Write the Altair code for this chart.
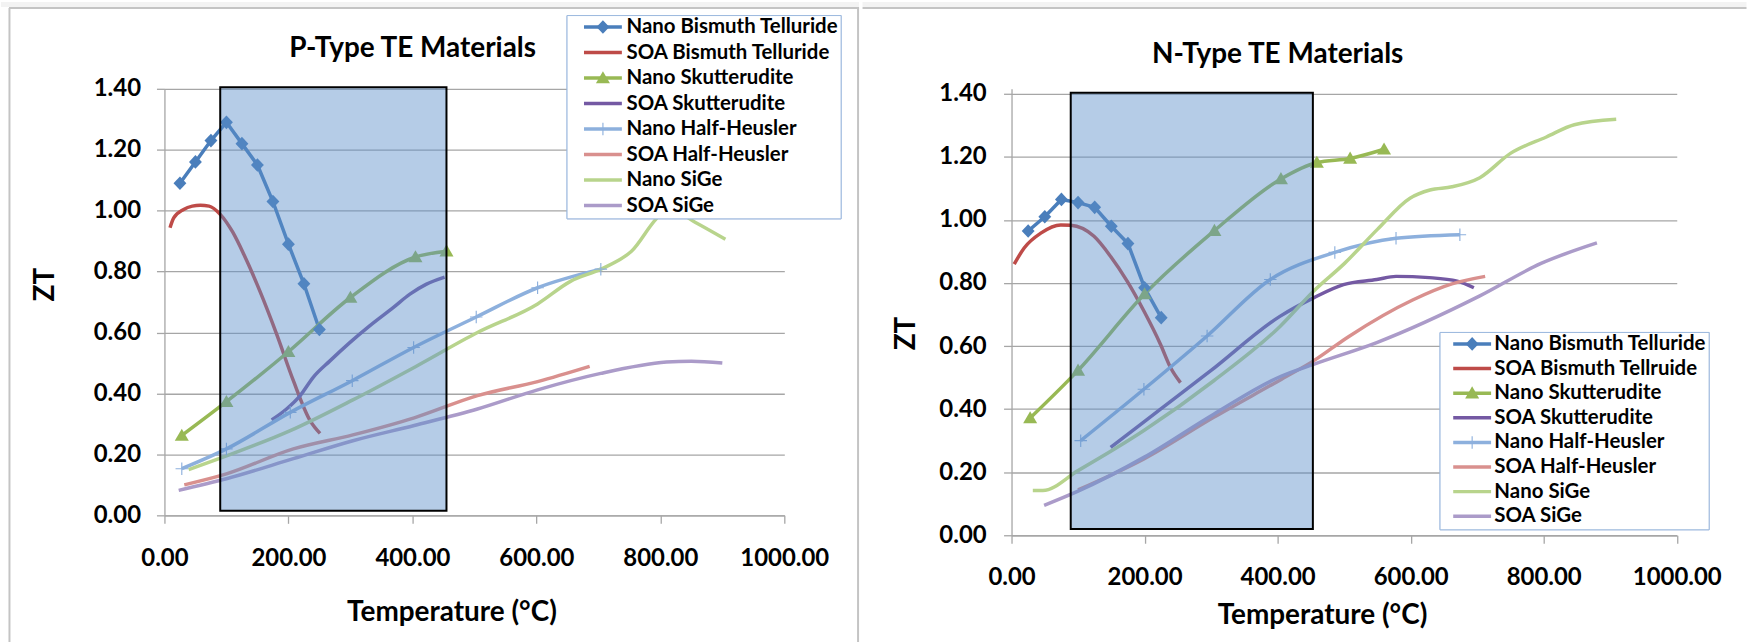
import altair as alt
import pandas as pd

FONT = "Lato"

# ---------------- series names ----------------
SERIES_P = ["Nano Bismuth Telluride", "SOA Bismuth Telluride", "Nano Skutterudite",
            "SOA Skutterudite", "Nano Half-Heusler", "SOA Half-Heusler", "Nano SiGe", "SOA SiGe"]
SERIES_N = ["Nano Bismuth Telluride", "SOA Bismuth Tellruide", "Nano Skutterudite",
            "SOA Skutterudite", "Nano Half-Heusler", "SOA Half-Heusler", "Nano SiGe", "SOA SiGe"]
COLORS = ["#4A7EBB", "#BE4B48", "#98B954", "#7459A3", "#8DB0DD", "#D9908E", "#B8D48C", "#AB9BC9"]
# marker outlines in the unit box of a symbol whose full width is the legend line length
DIAMOND = "M-0.34,0L0,-0.36L0.34,0L0,0.36Z"
TRIANGLE = "M0,-0.36L0.37,0.28L-0.37,0.28Z"
PLUS = "M-0.03,-0.33H0.03V-0.03H0.33V0.03H0.03V0.33H-0.03V0.03H-0.33V-0.03H-0.03Z"
NOMARK = "M0,0"
MARKER_SHAPES = [DIAMOND, NOMARK, TRIANGLE, NOMARK, PLUS, NOMARK, NOMARK, NOMARK]
LINE_SYMBOL = "M-1,0H1"
X_TICKS = [0, 200, 400, 600, 800, 1000]
Y_TICKS = [0, 0.2, 0.4, 0.6, 0.8, 1.0, 1.2, 1.4]

# ---------------- P-type data ----------------
p_nbt_t = [25, 50, 75, 100, 125, 150, 175, 200, 225, 250]
p_nbt_zt = [1.09, 1.16, 1.23, 1.29, 1.22, 1.15, 1.03, 0.89, 0.76, 0.61]
p_sbt_t = [9, 15, 31, 45, 58, 72, 90, 110, 128, 154, 181, 208, 235, 251]
p_sbt_zt = [0.944, 0.976, 1.004, 1.015, 1.018, 1.015, 0.988, 0.93, 0.857, 0.736, 0.595, 0.442, 0.311, 0.269]
p_nsk_t = [28, 100, 200, 300, 405, 455]
p_nsk_zt = [0.262, 0.373, 0.537, 0.715, 0.848, 0.867]
p_ssk_t = [173, 197, 219, 240, 267, 299, 331, 369, 396, 422, 452]
p_ssk_zt = [0.313, 0.349, 0.393, 0.453, 0.507, 0.567, 0.622, 0.682, 0.726, 0.758, 0.782]
p_nhh_t = [28, 100, 203, 303, 402, 503, 602, 704]
p_nhh_zt = [0.153, 0.218, 0.338, 0.442, 0.551, 0.651, 0.747, 0.808]
p_shh_t = [32, 100, 208, 304, 403, 505, 602, 686]
p_shh_zt = [0.100, 0.136, 0.218, 0.264, 0.320, 0.393, 0.439, 0.489]
p_nsg_t = [39, 100, 203, 304, 405, 505, 602, 655, 704, 753, 803, 820, 856, 905]
p_nsg_zt = [0.150, 0.195, 0.278, 0.379, 0.488, 0.600, 0.694, 0.768, 0.808, 0.866, 0.99, 1.0, 0.962, 0.906]
p_ssg_t = [23, 100, 208, 304, 403, 505, 602, 704, 810, 850, 900]
p_ssg_zt = [0.082, 0.120, 0.186, 0.245, 0.295, 0.349, 0.412, 0.466, 0.503, 0.506, 0.500]
p_box_t = [90, 455]
p_box_zt = [0.015, 1.405]

# ---------------- N-type data ----------------
n_nbt_t = [25, 50, 75, 100, 125, 150, 175, 200, 225]
n_nbt_zt = [0.965, 1.01, 1.065, 1.055, 1.04, 0.98, 0.925, 0.785, 0.69]
n_sbt_t = [4, 19, 44, 74, 89, 124, 149, 174, 199, 224, 239, 254]
n_sbt_zt = [0.86, 0.911, 0.958, 0.984, 0.983, 0.948, 0.884, 0.805, 0.711, 0.605, 0.532, 0.484]
n_nsk_t = [28, 100, 200, 305, 405, 459, 509, 560]
n_nsk_zt = [0.372, 0.523, 0.765, 0.966, 1.13, 1.182, 1.195, 1.224]
n_ssk_t = [149, 224, 299, 404, 454, 499, 549, 578, 628, 670, 695]
n_ssk_zt = [0.279, 0.40, 0.521, 0.695, 0.753, 0.795, 0.811, 0.821, 0.817, 0.806, 0.785]
n_nhh_t = [104, 199, 294, 389, 486, 578, 674]
n_nhh_zt = [0.30, 0.463, 0.632, 0.811, 0.897, 0.942, 0.953]
n_shh_t = [100, 199, 304, 406, 454, 506, 603, 662, 712]
n_shh_zt = [0.144, 0.242, 0.374, 0.495, 0.553, 0.629, 0.746, 0.797, 0.821]
n_nsg_t = [32, 47, 100, 199, 304, 404, 454, 501, 550, 599, 629, 662, 704, 750, 804, 846, 909]
n_nsg_zt = [0.142, 0.142, 0.205, 0.332, 0.49, 0.663, 0.774, 0.863, 0.97, 1.069, 1.095, 1.105, 1.134,
            1.211, 1.263, 1.302, 1.319]
n_ssg_t = [49, 100, 199, 304, 406, 454, 549, 704, 796, 880]
n_ssg_zt = [0.095, 0.14, 0.247, 0.384, 0.505, 0.542, 0.611, 0.759, 0.862, 0.927]
n_box_t = [89, 453]
n_box_zt = [0.02, 1.403]


def make_df(names, ts, zs):
    rows = []
    for name, t, z in zip(names, ts, zs):
        for a, b in zip(t, z):
            rows.append({"series": name, "mseries": name, "T": a, "ZT": b})
    return pd.DataFrame(rows)


df_p = make_df(SERIES_P,
               [p_nbt_t, p_sbt_t, p_nsk_t, p_ssk_t, p_nhh_t, p_shh_t, p_nsg_t, p_ssg_t],
               [p_nbt_zt, p_sbt_zt, p_nsk_zt, p_ssk_zt, p_nhh_zt, p_shh_zt, p_nsg_zt, p_ssg_zt])
df_n = make_df(SERIES_N,
               [n_nbt_t, n_sbt_t, n_nsk_t, n_ssk_t, n_nhh_t, n_shh_t, n_nsg_t, n_ssg_t],
               [n_nbt_zt, n_sbt_zt, n_nsk_zt, n_ssk_zt, n_nhh_zt, n_shh_zt, n_nsg_zt, n_ssg_zt])

ONE = pd.DataFrame({"k": [0]})
W_TOTAL = 1748
H_TOTAL = 642
SEP_X = 860
SYM = 1444  # symbol area -> 38 px wide legend line
LINE_W = 3.5


def panel(df, names, box_t, box_zt, title, g, left_panel):
    ox, oy, w, h = g["ox"], g["oy"], g["w"], g["h"]
    xs = alt.Scale(domain=[0, 1000], nice=False, zero=False)
    ys = alt.Scale(domain=[0, g["ymax"]], nice=False)
    xaxis = alt.Axis(values=X_TICKS, format=".2f", grid=False, labelFont=FONT, labelFontSize=24,
                     labelFontWeight="bold", labelColor="black", labelBaseline="middle",
                     labelPadding=g["xlp"], tickSize=8, tickColor="#A6A6A6", tickWidth=1.3,
                     domainColor="#A6A6A6", domainWidth=1.3, title="Temperature (°C)",
                     titleFont=FONT, titleFontSize=28, titleFontWeight="bold", titleColor="black",
                     titleX=g["xtx"], titleY=g["xty"], titleAlign="center", titleBaseline="middle",
                     labelFlush=False, labelOverlap=False)
    yaxis = alt.Axis(values=Y_TICKS, format=".2f", grid=True, gridColor="#A6A6A6", gridWidth=1.3,
                     labelFont=FONT, labelFontSize=24, labelFontWeight="bold", labelColor="black",
                     labelPadding=g["ylp"], tickSize=8, tickColor="#A6A6A6", tickWidth=1.3,
                     domainColor="#A6A6A6", domainWidth=1.3, title="ZT", titleFont=FONT,
                     titleFontSize=28, titleFontWeight="bold", titleColor="black",
                     titleX=g["ytx"], titleY=g["yty"], titleAngle=270, titleAlign="center",
                     titleBaseline="middle", labelFlush=False, labelOverlap=False)
    X = alt.X("T:Q", scale=xs, axis=xaxis)
    Y = alt.Y("ZT:Q", scale=ys, axis=yaxis)

    pad_expr = "datum.label + '" + "\u00a0" * g["nb"] + "'"
    common = dict(orient="none", legendX=g["lx"], legendY=g["ly"], title=None, symbolSize=SYM,
                  labelOffset=g["lo"], padding=2, rowPadding=g["rp"],
                  clipHeight=20, labelFont=FONT, labelFontSize=20.5, labelFontWeight="bold",
                  labelLimit=500, labelExpr=pad_expr)
    legA = alt.Legend(symbolType=LINE_SYMBOL, symbolStrokeWidth=LINE_W, symbolFillColor="transparent",
                      symbolOffset=g["so"], labelColor="black", strokeColor="#9DB9DE",
                      fillColor="white", zindex=1, **common)
    legB = alt.Legend(symbolStrokeWidth=0, symbolOffset=g["so"] + 2, labelOpacity=0, zindex=2,
                      **common)

    color = alt.Color("series:N", scale=alt.Scale(domain=names, range=COLORS), legend=legA)
    base = alt.Chart(df)
    lin = base.transform_filter(alt.datum.series == names[0]).mark_line(
        strokeWidth=LINE_W, interpolate="linear").encode(X, Y, color=color)
    smooth = base.transform_filter(alt.datum.series != names[0]).mark_line(
        strokeWidth=LINE_W, interpolate="monotone").encode(X, Y, color=color)
    pts = base.transform_filter(
        alt.FieldOneOfPredicate(field="series", oneOf=[names[0], names[2], names[4]])
    ).mark_point(filled=True, size=SYM, opacity=1, strokeWidth=0).encode(
        X, Y,
        shape=alt.Shape("mseries:N", scale=alt.Scale(domain=names, range=MARKER_SHAPES), legend=legB),
        fill=alt.Fill("mseries:N", scale=alt.Scale(domain=names, range=COLORS), legend=legB))

    box_df = pd.DataFrame({"T": [box_t[0]], "T2": [box_t[1]], "ZT": [box_zt[0]], "ZT2": [box_zt[1]]})
    rect = alt.Chart(box_df).mark_rect(fill="#5B8FC9", fillOpacity=0.45, stroke="black",
                                       strokeWidth=2).encode(X, alt.X2("T2:Q"), Y, alt.Y2("ZT2:Q"))

    layers = []
    # light strip at the top of the picture and the frame lines
    x_lo = 0 if left_panel else SEP_X + 1
    x_hi = SEP_X + 1 if left_panel else W_TOTAL
    layers.append(alt.Chart(ONE).mark_rect(color="#F3F3F3").encode(
        x=alt.value(x_lo - ox), x2=alt.value(x_hi - ox), y=alt.value(-oy), y2=alt.value(5 - oy)))
    layers.append(alt.Chart(ONE).mark_rule(color="#C4C4C4", strokeWidth=2).encode(
        x=alt.value(max(x_lo, 8) - ox), x2=alt.value(x_hi - ox), y=alt.value(6 - oy)))
    if left_panel:
        layers.append(alt.Chart(ONE).mark_rule(color="#C4C4C4", strokeWidth=2).encode(
            x=alt.value(8.5 - ox), y=alt.value(6 - oy), y2=alt.value(H_TOTAL - oy)))
        layers.append(alt.Chart(ONE).mark_rule(color="#C4C4C4", strokeWidth=2).encode(
            x=alt.value(SEP_X - ox), y=alt.value(6 - oy), y2=alt.value(H_TOTAL - oy)))
    layers += [lin, smooth, pts, rect]

    return alt.layer(*layers).properties(
        width=w, height=h,
        title=alt.TitleParams(title, font=FONT, fontSize=28, fontWeight="bold", color="black",
                              anchor="middle", frame="group", offset=0, baseline="middle",
                              dx=g["tdx"], dy=g["tdy"]),
    ).resolve_scale(color="independent", shape="independent", fill="independent")


geo_p = dict(ox=164, oy=87, w=622, h=428, ymax=1.4, xlp=35, xtx=288, xty=98, ylp=16, ytx=-119,
             yty=196, lx=403.5, ly=-74, so=13.5, lo=2.7, rp=4.6, nb=3, tdx=-62, tdy=75.5)
geo_n = dict(ox=1010.5, oy=87, w=667.5, h=448, ymax=1.4158, xlp=34, xtx=311.5, xty=80.5, ylp=17.5,
             ytx=-105.5, yty=245, lx=429.5, ly=244, so=9.7, lo=1.3, rp=3.7, nb=6, tdx=-66.7, tdy=81.5)

left = panel(df_p, SERIES_P, p_box_t, p_box_zt, "P-Type TE Materials", geo_p, True)
right = panel(df_n, SERIES_N, n_box_t, n_box_zt, "N-Type TE Materials", geo_n, False)

chart = alt.hconcat(left, right, spacing=0).resolve_scale(
    color="independent", shape="independent", fill="independent", x="independent", y="independent"
).resolve_legend(color="independent", shape="independent", fill="independent").properties(
    padding=0, background="white"
).configure_view(stroke="transparent")

chart.save("out.html", embed_options={"renderer": "svg", "actions": False})
